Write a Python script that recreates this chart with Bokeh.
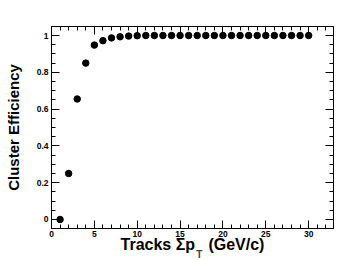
from bokeh.plotting import figure
from bokeh.models import LinearAxis, FixedTicker, Range1d, Label
from bokeh.embed import file_html
from bokeh.resources import INLINE

# Data
sum_pt = [1, 2, 3, 4, 5, 6, 7, 8, 9, 10, 11, 12, 13, 14, 15, 16, 17, 18, 19, 20,
          21, 22, 23, 24, 25, 26, 27, 28, 29, 30]
efficiency = [0.0, 0.25, 0.655, 0.85, 0.948, 0.972, 0.987, 0.993, 0.997, 0.999,
              1.0, 1.0, 1.0, 1.0, 1.0, 1.0, 1.0, 1.0, 1.0, 1.0,
              1.0, 1.0, 1.0, 1.0, 1.0, 1.0, 1.0, 1.0, 1.0, 1.0]
x_major = [0, 5, 10, 15, 20, 25, 30]
y_major = [0, 0.2, 0.4, 0.6, 0.8, 1]
y_labels = {0: "0", 0.2: "0.2", 0.4: "0.4", 0.6: "0.6", 0.8: "0.8", 1: "1"}
x_title = "Tracks Σp\u00a0\u00a0\u00a0(GeV/c)"
x_title_sub = "T"
y_title = "Cluster Efficiency"

FONT = "Liberation Sans"

p = figure(width=363, height=260, output_backend="svg", toolbar_location=None,
           x_range=Range1d(0, 32.9), y_range=Range1d(-0.049, 1.049),
           x_axis_type=None, y_axis_type=None,
           min_border_left=51, min_border_right=30, min_border_top=26, min_border_bottom=32)
p.background_fill_color = "white"
p.border_fill_color = "white"
p.outline_line_color = "black"
p.outline_line_width = 1
p.xgrid.visible = False
p.ygrid.visible = False

x_minor = [i for i in range(0, 33)]
y_minor = [round(i * 0.05, 2) for i in range(-1, 22)]

def style(ax, show_labels):
    ax.axis_line_color = "black"
    ax.major_tick_in = 8
    ax.major_tick_out = 0
    ax.minor_tick_in = 4
    ax.minor_tick_out = 0
    ax.major_tick_line_color = "black"
    ax.minor_tick_line_color = "black"
    ax.major_label_text_font = FONT
    ax.major_label_text_font_style = "bold"
    ax.major_label_text_font_size = "8.5px" if show_labels else "0px"
    ax.major_label_text_color = "black" if show_labels else None
    ax.major_label_standoff = 2 if show_labels else 0
    ax.axis_label_text_font = FONT
    ax.axis_label_text_font_style = "bold"
    ax.axis_label_text_color = "black"

xb = LinearAxis(ticker=FixedTicker(ticks=x_major, minor_ticks=x_minor), axis_label=x_title)
style(xb, True)
xb.axis_label_text_font_size = "16px"
xb.axis_label_standoff = -4
p.add_layout(xb, "below")
xt = LinearAxis(ticker=FixedTicker(ticks=x_major, minor_ticks=x_minor))
style(xt, False)
p.add_layout(xt, "above")

yl = LinearAxis(ticker=FixedTicker(ticks=y_major, minor_ticks=y_minor),
                major_label_overrides=y_labels, axis_label=y_title)
style(yl, True)
yl.major_label_standoff = 3
yl.axis_label_text_font_size = "15px"
yl.axis_label_standoff = 12
p.add_layout(yl, "left")
yr = LinearAxis(ticker=FixedTicker(ticks=y_major, minor_ticks=y_minor))
style(yr, False)
p.add_layout(yr, "right")

p.scatter(sum_pt, efficiency, size=6.5, color="black", marker="circle")

# subscript of the x title, positioned with the plot scales (hosted in the upper side panel so it is not clipped)
p.add_layout(Label(x=16.9, y=-0.19, text=x_title_sub, text_font=FONT, text_font_style="bold",
                   text_font_size="10px", text_align="left", text_baseline="alphabetic"),
             "above")

open("out.html", "w").write(file_html(p, INLINE))
